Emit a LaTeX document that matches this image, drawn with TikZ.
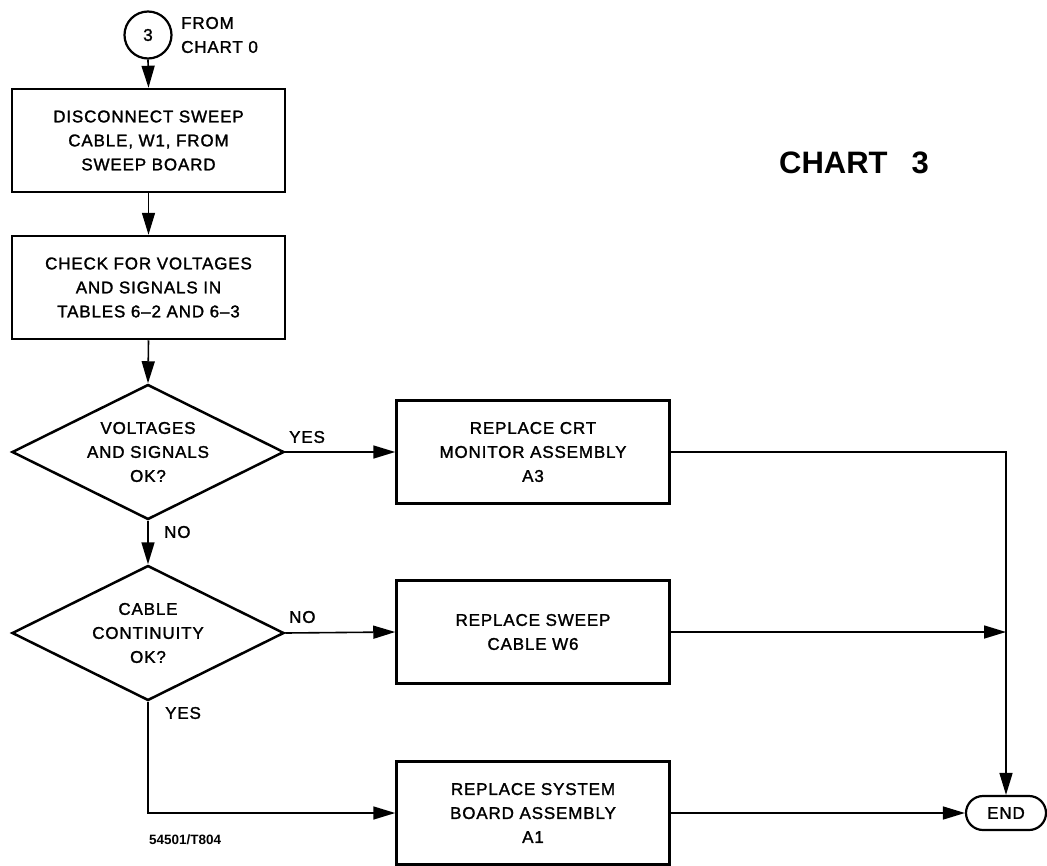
\documentclass[tikz,border=0pt]{standalone}
\usepackage{fontspec}
\setmainfont{Liberation Sans}[LetterSpace=5,FakeBold=1.5]
\newfontfamily\titlefont{Liberation Sans}
\usetikzlibrary{shapes.geometric,arrows.meta}
\begin{document}
\begin{tikzpicture}[x=1pt,y=-1pt,
  txt/.style={font=\fontsize{17}{24}\selectfont, align=center},
  stepbox/.style={txt, draw, line width=2.5pt, minimum width=273pt, minimum height=103pt, inner sep=0pt},
  decision/.style={txt, draw, diamond, aspect=2.03, line width=2.5pt, minimum width=272pt, minimum height=135pt, inner sep=0pt},
  arr/.style={line width=1.6pt, -{Triangle[length=22pt,width=13pt]}},
  lab/.style={txt, inner sep=0pt, anchor=west}]
\useasboundingbox (0,0) rectangle (1047,865);
\node[txt, draw, circle, line width=2.2pt, minimum size=47pt, inner sep=0pt] (c3) at (148,35) {3};
\node[lab, align=left, anchor=west] (from) at (181,35) {FROM\\CHART 0};
\node[stepbox] (b1) at (148.5,140.5) {DISCONNECT SWEEP\\CABLE, W1, FROM\\SWEEP BOARD};
\node[stepbox] (b2) at (148.5,287.5) {CHECK FOR VOLTAGES\\AND SIGNALS IN\\TABLES 6--2 AND 6--3};
\node[decision] (d1) at (148,452) {VOLTAGES\\AND SIGNALS\\OK?};
\node[decision] (d2) at (148,633) {CABLE\\CONTINUITY\\OK?};
\node[stepbox] (b3) at (533,452) {REPLACE CRT\\MONITOR ASSEMBLY\\A3};
\node[stepbox] (b4) at (533,632) {REPLACE SWEEP\\CABLE W6};
\node[stepbox] (b5) at (533,813) {REPLACE SYSTEM\\BOARD ASSEMBLY\\A1};
\node[txt, draw, rounded corners=17pt, line width=2.2pt, minimum width=80pt, minimum height=34pt, inner sep=0pt] (endn) at (1006,813) {END};
\node[font=\titlefont\fontsize{31}{36}\bfseries\selectfont, anchor=west, inner sep=0pt] (title) at (779,163) {CHART\hspace{24pt}3};
\node[font=\titlefont\fontsize{13.5}{14}\bfseries\selectfont, anchor=west, inner sep=0pt] (fig) at (149,840) {54501/T804};
\node[lab] (ly1) at (289,437) {YES};
\node[lab] (ln1) at (164,532) {NO};
\node[lab] (ln2) at (289,617) {NO};
\node[lab] (ly2) at (165,713) {YES};
\coordinate (j4) at (b4.east -| endn.north);
\draw[arr] (c3.south) -- (b1.north);
\draw[arr] (b1.south) -- (b2.north);
\draw[arr] (b2.south) -- (d1.north);
\draw[arr] (d1.east) -- (b3.west);
\draw[arr] (d1.south) -- (d2.north);
\draw[arr] (d2.east) -- (b4.west);
\draw[arr] (d2.south) |- (b5.west);
\draw[arr] (b3.east) -| (endn.north);
\draw[arr] (b4.east) -- (j4);
\draw[arr] (b5.east) -- (endn.west);
\end{tikzpicture}
\end{document}
